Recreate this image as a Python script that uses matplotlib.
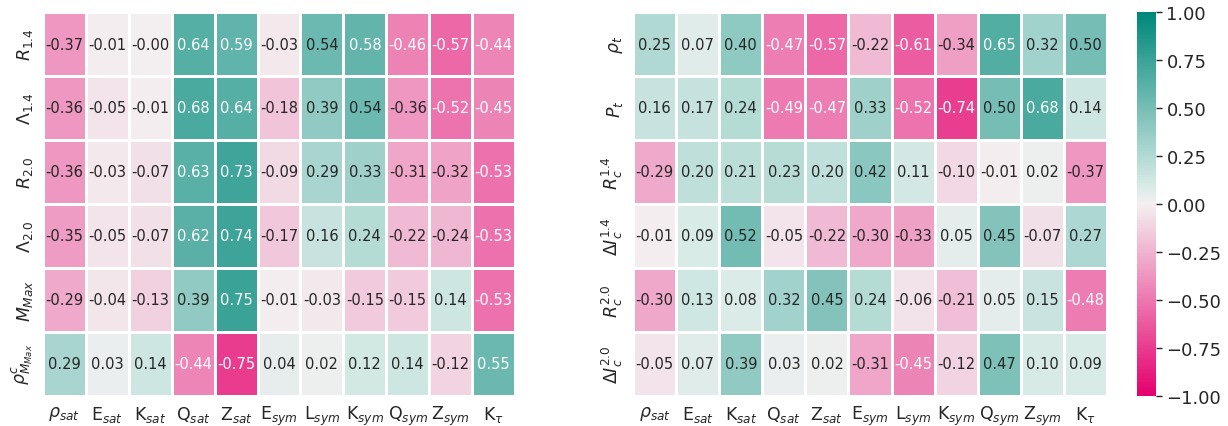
import numpy as np
import matplotlib
matplotlib.use('Agg')
import matplotlib.pyplot as plt
import seaborn as sns
from matplotlib.colors import LinearSegmentedColormap

# x axis: nuclear matter parameters
params = [r'$\rho_{sat}$', r'E$_{sat}$', r'K$_{sat}$', r'Q$_{sat}$', r'Z$_{sat}$',
          r'E$_{sym}$', r'L$_{sym}$', r'K$_{sym}$', r'Q$_{sym}$', r'Z$_{sym}$', r'K$_{\tau}$']

# left panel: star properties
left_rows = [r'$R_{1.4}$', r'$\Lambda_{1.4}$', r'$R_{2.0}$', r'$\Lambda_{2.0}$',
             r'$M_{Max}$', r'$\rho^c_{M_{Max}}$']
left_vals = [
    [-0.37, -0.01, -0.001, 0.64, 0.59, -0.03, 0.54, 0.58, -0.46, -0.57, -0.44],
    [-0.36, -0.05, -0.01, 0.68, 0.64, -0.18, 0.39, 0.54, -0.36, -0.52, -0.45],
    [-0.36, -0.03, -0.07, 0.63, 0.73, -0.09, 0.29, 0.33, -0.31, -0.32, -0.53],
    [-0.35, -0.05, -0.07, 0.62, 0.74, -0.17, 0.16, 0.24, -0.22, -0.24, -0.53],
    [-0.29, -0.04, -0.13, 0.39, 0.75, -0.01, -0.03, -0.15, -0.15, 0.14, -0.53],
    [0.29, 0.03, 0.14, -0.44, -0.75, 0.04, 0.02, 0.12, 0.14, -0.12, 0.55],
]

# right panel: crust-core transition properties
right_rows = [r'$\rho_t$', r'$P_t$', r'$R_c^{1.4}$', r'$\Delta I_c^{1.4}$',
              r'$R_c^{2.0}$', r'$\Delta I_c^{2.0}$']
right_vals = [
    [0.25, 0.07, 0.40, -0.47, -0.57, -0.22, -0.61, -0.34, 0.65, 0.32, 0.50],
    [0.16, 0.17, 0.24, -0.49, -0.47, 0.33, -0.52, -0.74, 0.50, 0.68, 0.14],
    [-0.29, 0.20, 0.21, 0.23, 0.20, 0.42, 0.11, -0.10, -0.01, 0.02, -0.37],
    [-0.01, 0.09, 0.52, -0.05, -0.22, -0.30, -0.33, 0.05, 0.45, -0.07, 0.27],
    [-0.30, 0.13, 0.08, 0.32, 0.45, 0.24, -0.06, -0.21, 0.05, 0.15, -0.48],
    [-0.05, 0.07, 0.39, 0.03, 0.02, -0.31, -0.45, -0.12, 0.47, 0.10, 0.09],
]

sns.set_theme(style='white')
# pink -> light -> teal, a bit mintier just above zero like the original
cmap = LinearSegmentedColormap.from_list(
    'pk_teal',
    [(0.0, '#e6006e'), (0.5, '#f3f0f1'), (0.55, '#d6eae6'), (1.0, '#00877a')])

fig = plt.figure(figsize=(12.28, 4.27), dpi=100)
ax1 = fig.add_axes([0.035, 0.0714, 0.3844, 0.898])
ax2 = fig.add_axes([0.5155, 0.0714, 0.386, 0.898])
cax = fig.add_axes([0.9259, 0.0714, 0.0155, 0.898])

common = dict(cmap=cmap, vmin=-1, vmax=1, annot=True, fmt='.2f',
              linewidths=0.8, linecolor='white', annot_kws={'size': 10.5})

sns.heatmap(np.array(left_vals), ax=ax1, cbar=False,
            xticklabels=params, yticklabels=left_rows, **common)
sns.heatmap(np.array(right_vals), ax=ax2, cbar_ax=cax,
            xticklabels=params, yticklabels=right_rows, **common)

for ax in (ax1, ax2):
    ax.tick_params(axis='both', length=0, labelsize=12.5, pad=6)
    plt.setp(ax.get_yticklabels(), rotation=90, va='center')
    plt.setp(ax.get_xticklabels(), rotation=0)

ticks = np.arange(-1, 1.01, 0.25)
cax.tick_params(labelsize=13, length=4, width=1, right=True)
cax.set_yticks(ticks)
cax.set_yticklabels([f'{t:.2f}'.replace('-', '\u2212') for t in ticks])

fig.savefig('out.png', dpi=100)
